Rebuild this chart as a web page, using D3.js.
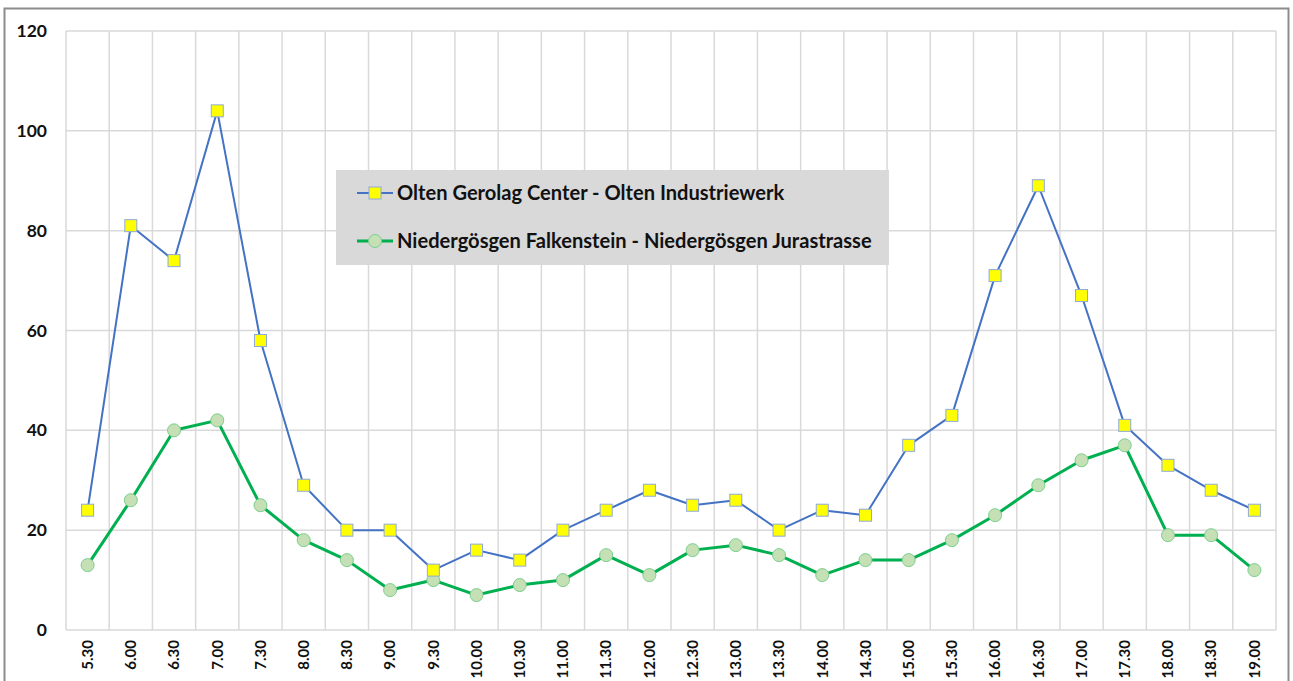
<!DOCTYPE html>
<html>
<head>
<meta charset="utf-8">
<script src="https://cdn.jsdelivr.net/npm/d3@7"></script>
<style>
  html, body { margin: 0; padding: 0; background: #fff; }
  svg { display: block; }
</style>
</head>
<body>
<svg id="chart" width="1293" height="681"></svg>
<script>
// Half-hourly departure counts for two stop pairs
const times = ["5.30","6.00","6.30","7.00","7.30","8.00","8.30","9.00","9.30","10.00","10.30","11.00","11.30","12.00","12.30","13.00","13.30","14.00","14.30","15.00","15.30","16.00","16.30","17.00","17.30","18.00","18.30","19.00"];
const olten = [24,81,74,104,58,29,20,20,12,16,14,20,24,28,25,26,20,24,23,37,43,71,89,67,41,33,28,24];
const niedergoesgen = [13,26,40,42,25,18,14,8,10,7,9,10,15,11,16,17,15,11,14,14,18,23,29,34,37,19,19,12];
const yTicks = [0,20,40,60,80,100,120];
const seriesNames = ["Olten Gerolag Center - Olten Industriewerk", "Niedergösgen Falkenstein - Niedergösgen Jurastrasse"];

const svg = d3.select("#chart");
const plot = { left: 66, right: 1276, top: 31, bottom: 630 };
const font = "Lato, 'Open Sans', sans-serif";

// outer frame
svg.append("rect")
  .attr("x", 4.5).attr("y", 8.5).attr("width", 1284).attr("height", 700)
  .attr("fill", "#fff").attr("stroke", "#8c8c8c").attr("stroke-width", 2);

const x = d3.scaleBand().domain(times).range([plot.left, plot.right]).padding(0);
const y = d3.scaleLinear().domain([0, 120]).range([plot.bottom, plot.top]);
const cx = d => x(d) + x.bandwidth() / 2;

// gridlines
const grid = svg.append("g").attr("stroke", "#d9d9d9").attr("stroke-width", 1.5);
grid.selectAll("line.h").data(yTicks).join("line")
  .attr("x1", plot.left).attr("x2", plot.right)
  .attr("y1", d => y(d)).attr("y2", d => y(d));
const bounds = times.map(t => x(t)).concat([plot.right]);
grid.selectAll("line.v").data(bounds).join("line")
  .attr("x1", d => d).attr("x2", d => d)
  .attr("y1", plot.top).attr("y2", plot.bottom);

// y axis labels
const yAxis = d3.axisLeft(y).tickValues(yTicks).tickSize(0).tickPadding(19);
const gy = svg.append("g").attr("transform", `translate(${plot.left},0)`).call(yAxis);
gy.select(".domain").remove();
gy.selectAll("text")
  .attr("font-family", font)
  .attr("font-weight", "bold").attr("font-size", 17.5).attr("fill", "#111");

// x axis labels (rotated)
const xAxis = d3.axisBottom(x).tickSize(0).tickPadding(0);
const gx = svg.append("g").attr("transform", `translate(0,${plot.bottom})`).call(xAxis);
gx.select(".domain").remove();
gx.selectAll("text")
  .attr("font-family", font)
  .attr("font-weight", "bold").attr("font-size", 15).attr("fill", "#111")
  .attr("transform", "rotate(-90)")
  .attr("text-anchor", "end")
  .attr("x", -10).attr("y", 0).attr("dy", "0.35em");

// lines
const line = vals => d3.line().x((d, i) => cx(times[i])).y(d => y(d))(vals);
svg.append("path").attr("d", line(niedergoesgen))
  .attr("fill", "none").attr("stroke", "#00b050").attr("stroke-width", 3)
  .attr("stroke-linejoin", "round");
svg.append("path").attr("d", line(olten))
  .attr("fill", "none").attr("stroke", "#4472c4").attr("stroke-width", 2)
  .attr("stroke-linejoin", "round");

// markers
svg.append("g").selectAll("circle").data(niedergoesgen).join("circle")
  .attr("cx", (d, i) => cx(times[i])).attr("cy", d => y(d)).attr("r", 6.5)
  .attr("fill", "#c5e0b4").attr("stroke", "#7ccf8f").attr("stroke-width", 1);
const sq = 12;
svg.append("g").selectAll("rect").data(olten).join("rect")
  .attr("x", (d, i) => cx(times[i]) - sq / 2).attr("y", d => y(d) - sq / 2)
  .attr("width", sq).attr("height", sq)
  .attr("fill", "#ffff00").attr("stroke", "#8ea9db").attr("stroke-width", 1);

// legend
const lg = svg.append("g");
lg.append("rect").attr("x", 336).attr("y", 170).attr("width", 553).attr("height", 95).attr("fill", "#d9d9d9");
const rows = [
  { name: seriesNames[0], color: "#4472c4", w: 2, yy: 193, marker: "square" },
  { name: seriesNames[1], color: "#00b050", w: 3, yy: 241, marker: "circle" }
];
rows.forEach(r => {
  lg.append("line").attr("x1", 357).attr("x2", 393).attr("y1", r.yy).attr("y2", r.yy)
    .attr("stroke", r.color).attr("stroke-width", r.w);
  if (r.marker === "square") {
    lg.append("rect").attr("x", 375 - 6).attr("y", r.yy - 6).attr("width", 12).attr("height", 12)
      .attr("fill", "#ffff00").attr("stroke", "#8ea9db").attr("stroke-width", 1);
  } else {
    lg.append("circle").attr("cx", 375).attr("cy", r.yy).attr("r", 6.5)
      .attr("fill", "#c5e0b4").attr("stroke", "#7ccf8f").attr("stroke-width", 1);
  }
  lg.append("text").attr("x", 397).attr("y", r.yy).attr("dy", "0.35em")
    .attr("font-family", font).attr("font-weight", "bold")
    .attr("font-size", 20.1).attr("fill", "#111").text(r.name);
});
</script>
</body>
</html>
